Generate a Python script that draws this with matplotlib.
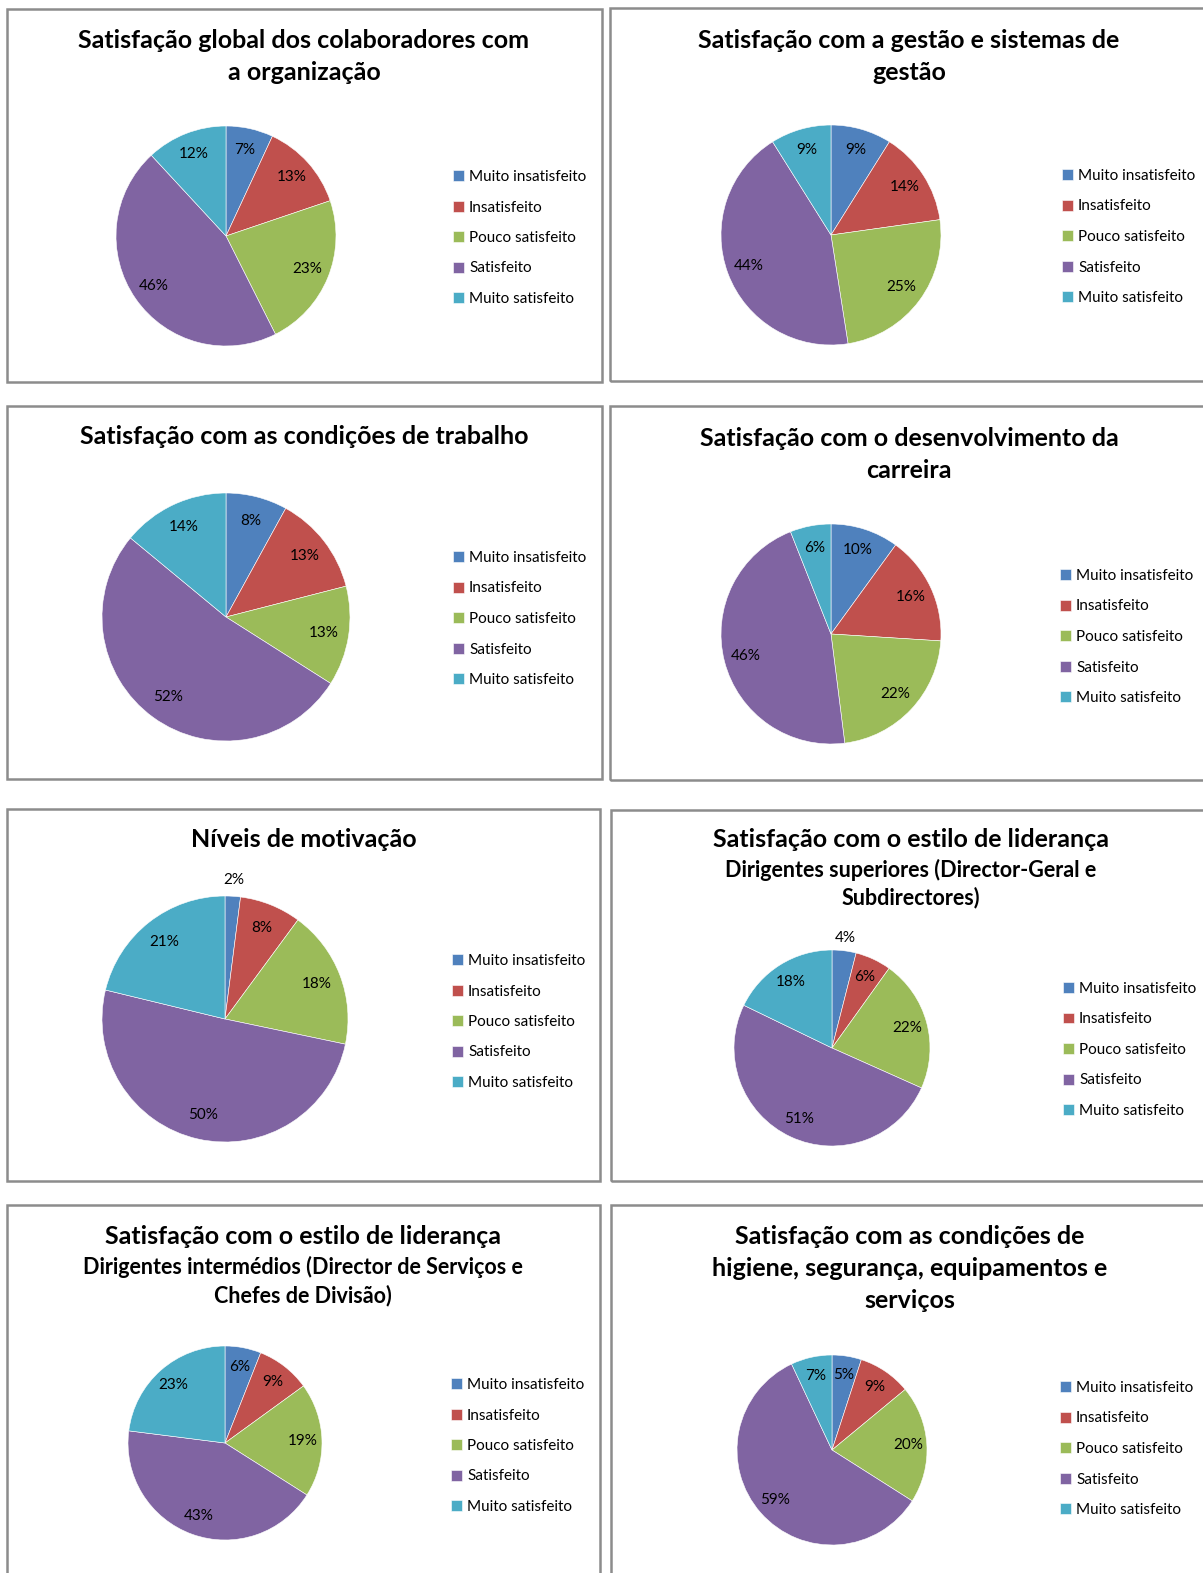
import matplotlib.pyplot as plt
from matplotlib.patches import Rectangle
import numpy as np

W, H = 1203, 1573
plt.rcParams['font.family'] = ['Lato', 'DejaVu Sans']

categories = ["Muito insatisfeito", "Insatisfeito", "Pouco satisfeito",
              "Satisfeito", "Muito satisfeito"]
colors = ["#4F81BD", "#C0504D", "#9BBB59", "#8064A2", "#4BACC6"]

global_org = [7, 13, 23, 46, 12]
gestao = [9, 14, 25, 44, 9]
condicoes = [8, 13, 13, 52, 14]
carreira = [10, 16, 22, 46, 6]
motivacao = [2, 8, 18, 50, 21]
lid_superiores = [4, 6, 22, 51, 18]
lid_intermedios = [6, 9, 19, 43, 23]
higiene = [5, 9, 20, 59, 7]

# panel layout in pixels: box, title centre x, pie centre/radius, title lines, legend
panels = [
    dict(data=global_org, box=(7, 9, 595, 373), tx=304, pie=(226, 236, 110),
         title=[("Satisfação global dos colaboradores com", 40, 18),
                ("a organização", 72, 18)], leg=(453, 238)),
    dict(data=gestao, box=(610, 8, 600, 373), tx=909, pie=(831, 235, 110),
         title=[("Satisfação com a gestão e sistemas de", 40, 18),
                ("gestão", 72, 18)], leg=(1062, 237)),
    dict(data=condicoes, box=(7, 406, 595, 373), tx=304, pie=(226, 617, 124),
         title=[("Satisfação com as condições de trabalho", 437, 18)], leg=(453, 619)),
    dict(data=carreira, box=(610, 406, 600, 374), tx=909, pie=(831, 634, 110),
         title=[("Satisfação com o desenvolvimento da", 438, 18),
                ("carreira", 471, 18)], leg=(1060, 637)),
    dict(data=motivacao, box=(7, 809, 593, 372), tx=304, pie=(225, 1019, 123),
         title=[("Níveis de motivação", 840, 18)], leg=(452, 1022)),
    dict(data=lid_superiores, box=(611, 810, 600, 371), tx=911, pie=(832, 1048, 98),
         title=[("Satisfação com o estilo de liderança", 840, 18),
                ("Dirigentes superiores (Director-Geral e", 870, 15.5),
                ("Subdirectores)", 898, 15.5)], leg=(1063, 1050)),
    dict(data=lid_intermedios, box=(7, 1205, 593, 380), tx=303, pie=(225, 1443, 97),
         title=[("Satisfação com o estilo de liderança", 1237, 18),
                ("Dirigentes intermédios (Director de Serviços e", 1267, 15.5),
                ("Chefes de Divisão)", 1296, 15.5)], leg=(451, 1446)),
    dict(data=higiene, box=(611, 1205, 600, 380), tx=910, pie=(832, 1450, 95),
         title=[("Satisfação com as condições de", 1236, 18),
                ("higiene, segurança, equipamentos e", 1268, 18),
                ("serviços", 1301, 18)], leg=(1060, 1449)),
]

fig = plt.figure(figsize=(W / 100, H / 100), dpi=100)

def fx(x):
    return x / W

def fy(y):
    return 1 - y / H

for p in panels:
    bx, by, bw, bh = p["box"]
    fig.patches.append(Rectangle((fx(bx), fy(by + bh)), bw / W, bh / H,
                                 transform=fig.transFigure, fill=False,
                                 edgecolor="#8c8c8c", linewidth=1.8))
    for txt, ty, fs in p["title"]:
        fig.text(fx(p["tx"]), fy(ty), txt, ha="center", va="center",
                 fontsize=fs, fontweight="bold", color="black")

    cx, cy, r = p["pie"]
    ax = fig.add_axes([fx(cx - r), fy(cy + r), 2 * r / W, 2 * r / H])
    wedges, _ = ax.pie(p["data"], colors=colors, startangle=90, counterclock=False,
                       radius=1, wedgeprops=dict(edgecolor="white", linewidth=0.4))
    ax.set_xlim(-1, 1)
    ax.set_ylim(-1, 1)
    ax.set_aspect("equal")
    ax.axis("off")
    total = sum(p["data"])
    for w, v in zip(wedges, p["data"]):
        ang = np.deg2rad((w.theta1 + w.theta2) / 2)
        d = 1.13 if v / total < 0.05 else 0.8
        ax.text(d * np.cos(ang), d * np.sin(ang), f"{v}%", ha="center",
                va="center", fontsize=11, color="black", clip_on=False)

    lx, ly = p["leg"]
    ax.legend(wedges, categories, loc="center left",
              bbox_to_anchor=(fx(lx), fy(ly)), bbox_transform=fig.transFigure,
              frameon=False, fontsize=11, handlelength=0.7, handleheight=0.7,
              handletextpad=0.35, labelspacing=1.08, borderpad=0, borderaxespad=0)

fig.savefig("out.png", dpi=100, facecolor="white")
